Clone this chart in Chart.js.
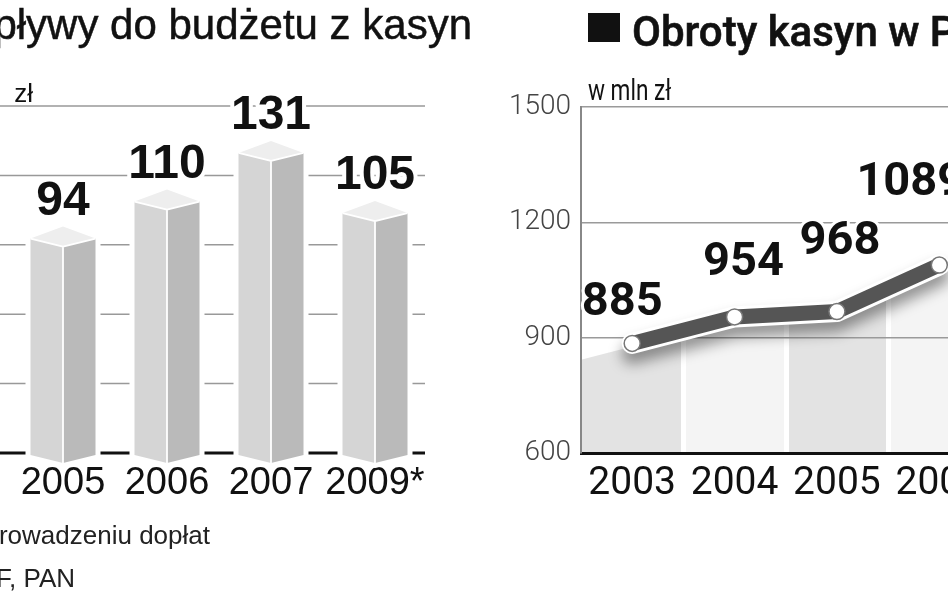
<!DOCTYPE html>
<html><head><meta charset="utf-8">
<script src="https://cdn.jsdelivr.net/npm/chart.js@4/dist/chart.umd.min.js"></script>
<style>
html,body{margin:0;padding:0;width:948px;height:593px;overflow:hidden;background:#fff;position:relative}
.t{position:absolute;white-space:nowrap;line-height:1;color:#111}
canvas{position:absolute;top:0}
</style></head><body>
<canvas id="c1" width="440" height="593" style="left:0"></canvas>
<canvas id="c2" width="520" height="593" style="left:480px"></canvas>
<div class="t" style="right:476px;top:1px;font:42px 'Liberation Sans';-webkit-text-stroke:0.5px #111">Wpływy do budżetu z kasyn</div>
<div class="t" style="right:915px;top:78px;font:26px 'Liberation Sans';word-spacing:14px">w mln zł</div>
<div class="t" style="right:738px;top:520px;font:26px 'Liberation Sans';color:#222">* po wprowadzeniu dopłat</div>
<div class="t" style="right:873px;top:563px;font:26px 'Liberation Sans';color:#222">Źródło: MF, PAN</div>
<div style="position:absolute;left:588px;top:13px;width:32px;height:29px;background:#111"></div>
<div class="t" style="left:632px;top:7px;font:500 42px Roboto;-webkit-text-stroke:0.6px #111">Obroty kasyn w Polsce</div>
<div class="t" style="left:588px;top:73px;font:29px Roboto;transform:scaleX(0.78);transform-origin:0 0">w mln zł</div>
<script>
// ---- data: left chart (wpływy do budżetu, mln zł)
const barYears = ['2005', '2006', '2007', '2009*'];
const barValues = [94, 110, 131, 105];
const barTicks = [0, 30, 60, 90, 120, 150];
// ---- data: right chart (obroty kasyn, mln zł)
const lineYears = ['2003', '2004', '2005', '2006'];
const lineValues = [885, 954, 968, 1089];
const lineTicks = [600, 900, 1200, 1500];
// label placement relative to points (layout only)
const lineLabelShift = [[-10, -28], [9, -42], [3, -58], [-29, -70]];

Chart.defaults.animation = false;

const prism = {
  id: 'prism',
  beforeDatasetsDraw(chart) {
    const ctx = chart.ctx, y = chart.scales.y, a = chart.chartArea;
    ctx.save();
    barTicks.forEach(v => {
      const py = y.getPixelForValue(v);
      ctx.beginPath();
      ctx.strokeStyle = v === 0 ? '#111' : '#999';
      ctx.lineWidth = v === 0 ? 3 : 1.5;
      ctx.moveTo(0, py); ctx.lineTo(a.right - 2, py); ctx.stroke();
    });
    ctx.restore();
  },
  afterDatasetsDraw(chart) {
    const ctx = chart.ctx;
    const meta = chart.getDatasetMeta(0);
    ctx.save();
    meta.data.forEach((el, i) => {
      const x = el.x, w = el.width, t = el.y, b = el.base;
      const x0 = x - w / 2, x1 = x + w / 2;
      ctx.beginPath();
      ctx.moveTo(x0, t + 3); ctx.lineTo(x, t - 9); ctx.lineTo(x1, t + 3);
      ctx.lineTo(x1, b + 2); ctx.lineTo(x, b + 10); ctx.lineTo(x0, b + 2); ctx.closePath();
      ctx.lineJoin = 'round'; ctx.strokeStyle = '#fff'; ctx.lineWidth = 10; ctx.stroke();
      ctx.fillStyle = '#fff'; ctx.fill();
      ctx.beginPath();
      ctx.moveTo(x0, t + 3); ctx.lineTo(x, t + 11); ctx.lineTo(x, b + 10); ctx.lineTo(x0, b + 2); ctx.closePath();
      ctx.fillStyle = '#d5d5d5'; ctx.fill();
      ctx.beginPath();
      ctx.moveTo(x, t + 11); ctx.lineTo(x1, t + 3); ctx.lineTo(x1, b + 2); ctx.lineTo(x, b + 10); ctx.closePath();
      ctx.fillStyle = '#bababa'; ctx.fill();
      ctx.beginPath();
      ctx.moveTo(x0, t + 3); ctx.lineTo(x, t - 9); ctx.lineTo(x1, t + 3); ctx.lineTo(x, t + 11); ctx.closePath();
      ctx.fillStyle = '#eeeeee'; ctx.fill();
      ctx.beginPath();
      ctx.moveTo(x0, t + 3); ctx.lineTo(x, t + 11); ctx.lineTo(x1, t + 3);
      ctx.moveTo(x, t + 11); ctx.lineTo(x, b + 10);
      ctx.strokeStyle = '#fff'; ctx.lineWidth = 1.8; ctx.stroke();
      ctx.font = "bold 48px 'Liberation Sans'";
      ctx.textAlign = 'center'; ctx.textBaseline = 'alphabetic';
      ctx.lineWidth = 8; ctx.strokeStyle = '#fff';
      ctx.strokeText(String(barValues[i]), x, t - 21);
      ctx.fillStyle = '#111';
      ctx.fillText(String(barValues[i]), x, t - 21);
    });
    ctx.restore();
  }
};

new Chart(document.getElementById('c1'), {
  type: 'bar',
  data: { labels: barYears, datasets: [{ data: barValues, backgroundColor: 'rgba(0,0,0,0)', borderWidth: 0, barPercentage: 0.625, categoryPercentage: 1 }] },
  options: {
    responsive: false, events: [],
    layout: { padding: { left: 11, top: 106, right: 13, bottom: 0 } },
    plugins: { legend: { display: false }, tooltip: { enabled: false } },
    scales: {
      x: {
        grid: { display: false, drawTicks: false }, border: { display: false },
        ticks: { color: '#111', padding: 8, font: { family: 'Liberation Sans', size: 38 }, maxRotation: 0, autoSkip: false },
        afterFit(s) { s.height = 140; }
      },
      y: { display: false, min: 0, max: 150, ticks: { stepSize: 30 } }
    }
  },
  plugins: [prism]
});

const areaPlugin = {
  id: 'area',
  beforeDraw(chart) {
    const ctx = chart.ctx, a = chart.chartArea;
    const pts = chart.getDatasetMeta(0).data;
    const x = chart.scales.x;
    const step = x.getPixelForValue(1) - x.getPixelForValue(0);
    const n = pts.length;
    const yl = pts[0].y + (pts[0].y - pts[1].y) * (pts[0].x - a.left) / (pts[1].x - pts[0].x);
    const yr = pts[n - 1].y + (pts[n - 1].y - pts[n - 2].y) * (chart.width - pts[n - 1].x) / (pts[n - 1].x - pts[n - 2].x);
    const W = step * n;
    const g = ctx.createLinearGradient(a.left, 0, a.left + W, 0);
    const cols = ['#e3e3e3', '#f4f4f4'];
    for (let i = 0; i < n; i++) {
      const s = i === 0 ? 0 : (i * step + 3) / W;
      const e = ((i + 1) * step - 2) / W;
      if (i > 0) g.addColorStop(Math.max(0, s - 0.0001), '#ffffff');
      g.addColorStop(s, cols[i % 2]);
      g.addColorStop(Math.min(1, e), cols[i % 2]);
      if (i < n - 1) g.addColorStop(Math.min(1, e + 0.0001), '#ffffff');
    }
    ctx.save();
    ctx.beginPath();
    ctx.moveTo(a.left, yl + 3);
    pts.forEach(p => ctx.lineTo(p.x, p.y + 3));
    ctx.lineTo(chart.width, yr + 3);
    ctx.lineTo(chart.width, a.bottom);
    ctx.lineTo(a.left, a.bottom);
    ctx.closePath();
    ctx.fillStyle = g; ctx.fill();
    ctx.restore();
  },
  beforeDatasetsDraw(chart) {
    const ctx = chart.ctx;
    const pts = chart.getDatasetMeta(0).data;
    ctx.save();
    ctx.beginPath();
    pts.forEach((p, i) => i ? ctx.lineTo(p.x, p.y) : ctx.moveTo(p.x, p.y));
    ctx.lineCap = 'round'; ctx.lineJoin = 'round';
    ctx.shadowColor = 'rgba(0,0,0,0.4)'; ctx.shadowBlur = 14; ctx.shadowOffsetY = 10;
    ctx.strokeStyle = '#fff'; ctx.lineWidth = 21; ctx.stroke();
    ctx.restore();
  },
  afterDatasetsDraw(chart) {
    const ctx = chart.ctx;
    const pts = chart.getDatasetMeta(0).data;
    ctx.save();
    ctx.font = 'bold 47px Roboto';
    ctx.textAlign = 'center'; ctx.textBaseline = 'alphabetic';
    pts.forEach((p, i) => {
      const tx = p.x + lineLabelShift[i][0], ty = p.y + lineLabelShift[i][1];
      ctx.lineWidth = 6; ctx.strokeStyle = '#fff'; ctx.lineJoin = 'round';
      ctx.strokeText(String(lineValues[i]), tx, ty);
      ctx.fillStyle = '#111';
      ctx.fillText(String(lineValues[i]), tx, ty);
    });
    ctx.restore();
  }
};

new Chart(document.getElementById('c2'), {
  type: 'line',
  data: { labels: lineYears, datasets: [{
    data: lineValues, borderColor: '#555', borderWidth: 15, fill: false, tension: 0,
    borderCapStyle: 'round', borderJoinStyle: 'round',
    pointRadius: 8, pointBackgroundColor: '#fff', pointBorderColor: '#777', pointBorderWidth: 1.5
  }] },
  options: {
    responsive: false, events: [],
    layout: { padding: { left: 0, top: 107, right: 5, bottom: 0 } },
    plugins: { legend: { display: false }, tooltip: { enabled: false } },
    scales: {
      x: {
        offset: true,
        grid: { display: false, drawTicks: false, offset: true },
        border: { display: true, color: '#111', width: 3 },
        ticks: { color: '#111', padding: 8, font: { family: 'Roboto', size: 39 }, maxRotation: 0, autoSkip: false },
        afterFit(s) { s.height = 140; }
      },
      y: {
        min: 600, max: 1500,
        afterBuildTicks(s) { s.ticks = lineTicks.map(v => ({ value: v })); },
        grid: { color: '#9a9a9a', lineWidth: 1.5, drawTicks: false },
        border: { display: true, color: '#888', width: 2 },
        ticks: { color: '#444', padding: 10, font: { family: 'Roboto', size: 28, weight: '300' }, callback: v => String(v) },
        afterFit(s) { s.width = 101; }
      }
    }
  },
  plugins: [areaPlugin]
});
</script>
</body></html>
